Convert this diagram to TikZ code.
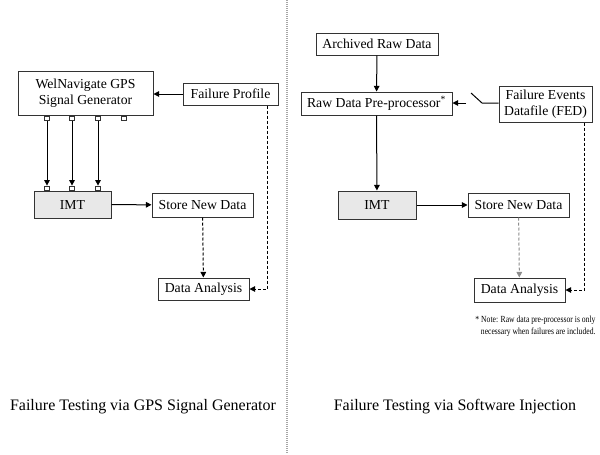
\documentclass[tikz,border=0pt]{standalone}
\usepackage{fontspec}
\setmainfont{Liberation Serif}
\newfontfamily\notefont[FakeStretch=0.82]{Liberation Serif}
\usetikzlibrary{arrows.meta}
\begin{document}
\begin{tikzpicture}[x=0.75pt,y=-0.75pt,line width=0.75pt,
    >={Triangle[length=4.2pt,width=4.2pt]},
    block/.style={draw=black!80,inner sep=0pt,align=center,
      font=\fontsize{10.3}{12.4}\selectfont},
    shaded/.style={block,fill=black!9},
    port/.style={draw=black!80,fill=white,minimum size=3.6pt,inner sep=0pt},
    dashline/.style={dash pattern=on 2.25pt off 1.5pt},
    caption/.style={font=\fontsize{12}{14}\selectfont}]
    \useasboundingbox (0,0) rectangle (600,454);

    % left half
    \node[block,minimum width=101.25pt,minimum height=33pt] (gen) at (85.5,93)
      {WelNavigate GPS\\Signal Generator};
    \node[block,minimum width=71.25pt,minimum height=16.5pt] (fprof) at (230.5,94)
      {Failure Profile};
    \node[shaded,minimum width=57.75pt,minimum height=20.25pt] (imtA) at (72.5,204.5)
      {IMT};
    \node[block,minimum width=75.75pt,minimum height=18pt] (storeA) at (202.5,205)
      {Store New Data};
    \node[block,minimum width=68.25pt,minimum height=16.5pt] (anaA) at (203.5,289)
      {Data Analysis};

    \node[port] (outA1) at (47,118.5) {};
    \node[port] (outA2) at (72,118.5) {};
    \node[port] (outA3) at (98,118.5) {};
    \node[port] (outA4) at (124,118.5) {};
    \node[port] (inA1) at (47,188.5) {};
    \node[port] (inA2) at (72,188.5) {};
    \node[port] (inA3) at (98,188.5) {};

    \draw[->] (fprof.west) -- (fprof.west -| gen.east);
    \draw[->] (outA1) -- (inA1);
    \draw[->] (outA2) -- (inA2);
    \draw[->] (outA3) -- (inA3);
    \draw[->] (imtA) -- (storeA);
    \draw[->,dashline] (storeA) -- (anaA);
    \draw[->,dashline] ([xshift=27.4pt]fprof.south) |- (anaA.east);

    % divider
    \draw[black!35,dash pattern=on 0.75pt off 0.75pt,line width=1.5pt]
      (287,0) -- (287,454);

    % right half
    \node[block,minimum width=91.5pt,minimum height=16.5pt] (arch) at (377,44)
      {Archived Raw Data};
    \node[block,minimum width=113.25pt,minimum height=17.25pt] (pre) at (376.5,103.5)
      {Raw Data Pre-processor\textsuperscript{*}};
    \node[block,minimum width=69.75pt,minimum height=27pt] (fed) at (545.5,104)
      {Failure Events\\Datafile (FED)};
    \node[shaded,minimum width=58.5pt,minimum height=21pt] (imtB) at (377,205)
      {IMT};
    \node[block,minimum width=75.75pt,minimum height=18pt] (storeB) at (518.5,205)
      {Store New Data};
    \node[block,minimum width=68.25pt,minimum height=18pt] (anaB) at (519.5,290)
      {Data Analysis};

    \coordinate (sw) at (482,103);
    \coordinate (swtop) at (471,93);
    \coordinate (swin) at (466,103);

    \draw[->] (arch) -- (pre);
    \draw (fed.west |- sw) -- (sw) -- (swtop);
    \draw[->] (swin) -- (pre.east |- swin);
    \draw[->] (pre) -- (imtB);
    \draw[->] (imtB) -- (storeB);
    \draw[->,dashline,black!45] (storeB) -- (anaB);
    \draw[->,dashline] ([xshift=28.9pt]fed.south) |- (anaB.east);

    \node[anchor=east,align=right,inner sep=0pt,
      font=\notefont\fontsize{7}{9}\selectfont] (note) at (596,326)
      {* Note: Raw data pre-processor is only\\necessary when failures are included.};

    \node[caption] (capA) at (143,407) {Failure Testing via GPS Signal Generator};
    \node[caption] (capB) at (455,407) {Failure Testing via Software Injection};
  \end{tikzpicture}
\end{document}
